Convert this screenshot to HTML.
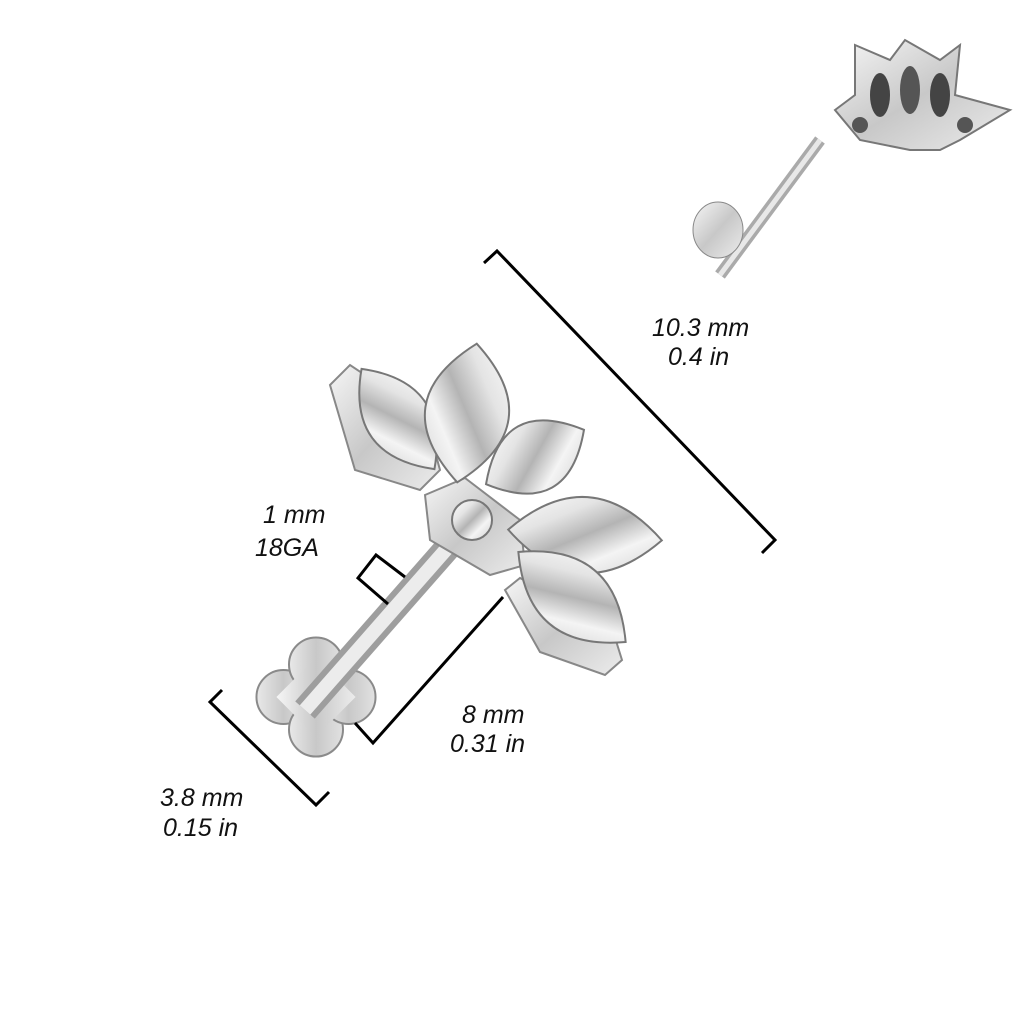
<!DOCTYPE html>
<html><head><meta charset="utf-8"><style>
html,body{margin:0;padding:0;background:#fff;}
svg{display:block}
text{font-family:"Liberation Sans",sans-serif;font-style:italic;font-size:25px;fill:#111}
</style></head><body>
<svg width="1024" height="1024" viewBox="0 0 1024 1024" xmlns="http://www.w3.org/2000/svg">
<defs>
<linearGradient id="met" x1="0" y1="0" x2="1" y2="1">
<stop offset="0" stop-color="#f6f6f6"/><stop offset="0.5" stop-color="#c8c8c8"/><stop offset="1" stop-color="#ececec"/></linearGradient>
<linearGradient id="gem" x1="0" y1="0" x2="1" y2="1">
<stop offset="0" stop-color="#ffffff"/><stop offset="0.3" stop-color="#e4e4e4"/><stop offset="0.5" stop-color="#b4b4b4"/><stop offset="0.7" stop-color="#f4f4f4"/><stop offset="1" stop-color="#cfcfcf"/></linearGradient>
<pattern id="fac" width="14" height="14" patternUnits="userSpaceOnUse" patternTransform="rotate(30)">
<rect width="14" height="14" fill="none"/><path d="M0,0 L14,14" stroke="#9a9a9a" stroke-width="1" opacity="0.5"/></pattern>
</defs>
<!-- flat back -->
<g transform="rotate(-45 316 697)" fill="url(#met)" stroke="#8a8a8a" stroke-width="2">
<circle cx="293" cy="674" r="27"/><circle cx="339" cy="674" r="27"/><circle cx="293" cy="720" r="27"/><circle cx="339" cy="720" r="27"/>
<rect x="288" y="669" width="56" height="56" stroke="none"/>
</g>
<!-- post -->
<line x1="305" y1="710" x2="450" y2="545" stroke="#9e9e9e" stroke-width="26"/>
<line x1="305" y1="710" x2="450" y2="545" stroke="#ececec" stroke-width="14"/>
<!-- side plates -->
<path d="M330,385 L350,365 L425,415 L440,470 L420,490 L355,470 Z" fill="url(#met)" stroke="#888" stroke-width="2"/>
<path d="M505,590 L520,578 L612,628 L622,660 L605,675 L540,652 Z" fill="url(#met)" stroke="#888" stroke-width="2"/>
<!-- collar -->
<path d="M425,495 L465,478 L520,520 L525,565 L490,575 L430,540 Z" fill="url(#met)" stroke="#888" stroke-width="2"/>
<!-- gems -->
<g stroke="#777" stroke-width="2">
<g fill="url(#gem)">
<path d="M-62,0 Q0,-64 62,0 Q0,64 -62,0Z" transform="translate(398 419) rotate(54)"/>
<path d="M-70,0 Q0,-84 70,0 Q0,84 -70,0Z" transform="translate(467 413) rotate(98)"/>
<path d="M-56,0 Q0,-70 56,0 Q0,70 -56,0Z" transform="translate(535 457) rotate(-29)"/>
<path d="M-77,0 Q0,-76 77,0 Q0,76 -77,0Z" transform="translate(585 535) rotate(4)"/>
<path d="M-70,0 Q0,-70 70,0 Q0,70 -70,0Z" transform="translate(572 597) rotate(40)"/>
<circle cx="472" cy="520" r="20"/>
</g>
</g>
<!-- dimension lines -->
<g fill="none" stroke="#000" stroke-width="3">
<polyline points="484,263 497,251 775,540 762,553"/>
<polyline points="222,690 210,702 316,805 329,792"/>
<polyline points="388,604 358,578 376,555 405,577"/>
<polyline points="355,723 373,743 503,597"/>
</g>
<!-- top-right small image -->
<line x1="720" y1="275" x2="820" y2="140" stroke="#aaa" stroke-width="12"/>
<line x1="720" y1="275" x2="820" y2="140" stroke="#e8e8e8" stroke-width="5"/>
<ellipse cx="718" cy="230" rx="25" ry="28" fill="url(#met)" stroke="#888"/>
<path d="M855,45 L890,60 L905,40 L940,60 L960,45 L955,95 L1010,110 L960,140 L940,150 L910,150 L860,140 L835,110 L855,95 Z" fill="url(#met)" stroke="#777" stroke-width="2"/>
<ellipse cx="880" cy="95" rx="10" ry="22" fill="#444"/><ellipse cx="910" cy="90" rx="10" ry="24" fill="#555"/><ellipse cx="940" cy="95" rx="10" ry="22" fill="#444"/>
<circle cx="860" cy="125" r="8" fill="#555"/><circle cx="965" cy="125" r="8" fill="#555"/>
<!-- labels -->
<text x="652" y="336">10.3 mm</text>
<text x="668" y="365">0.4 in</text>
<text x="263" y="523">1 mm</text>
<text x="255" y="556">18GA</text>
<text x="462" y="723">8 mm</text>
<text x="450" y="752">0.31 in</text>
<text x="160" y="806">3.8 mm</text>
<text x="163" y="836">0.15 in</text>
</svg>
</body></html>
